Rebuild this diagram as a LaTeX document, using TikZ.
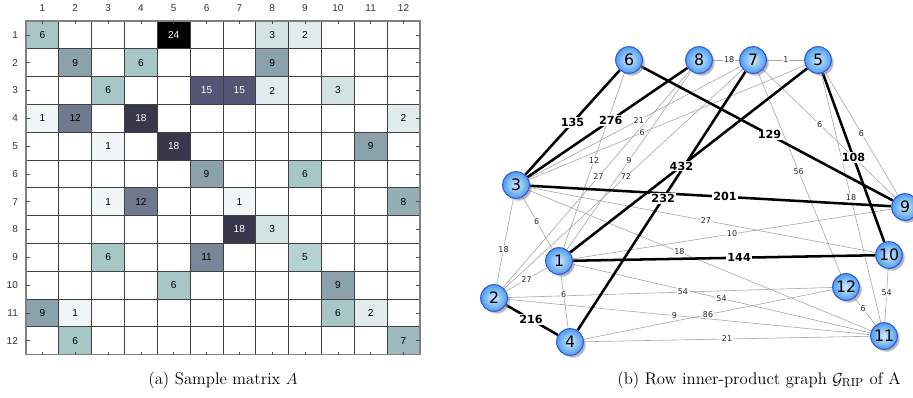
\documentclass[tikz,border=0pt]{standalone}
\usepackage{fontspec}
\usepackage{amsmath}
\usetikzlibrary{shadows}
\newfontfamily\matfont{Liberation Sans}
\newfontfamily\graphfont{DejaVu Sans}

% colour scale of the matrix entries
\definecolor{c1}{RGB}{240,246,246}
\definecolor{c2}{RGB}{226,236,236}
\definecolor{c3}{RGB}{211,227,227}
\definecolor{c5}{RGB}{182,209,209}
\definecolor{c6}{RGB}{167,199,199}
\definecolor{c7}{RGB}{158,186,190}
\definecolor{c8}{RGB}{149,174,181}
\definecolor{c9}{RGB}{139,161,171}
\definecolor{c11}{RGB}{121,135,153}
\definecolor{c12}{RGB}{112,122,143}
\definecolor{c15}{RGB}{84,84,116}
\definecolor{c18}{RGB}{56,56,77}
\definecolor{c24}{RGB}{0,0,0}
\definecolor{ballin}{RGB}{208,234,252}
\definecolor{ballout}{RGB}{78,158,234}
\definecolor{ballrim}{RGB}{48,84,236}

\pgfdeclarelayer{thinlayer}
\pgfdeclarelayer{thicklayer}
\pgfsetlayers{thinlayer,thicklayer,main}

\begin{document}
\begin{tikzpicture}[x=0.75pt, y=-0.75pt,
  cell/.style = {minimum width=24.62pt, minimum height=20.85pt, inner sep=0, font=\matfont\fontsize{7.6}{8}\selectfont},
  axlbl/.style = {inner sep=0, text=black!80, font=\matfont\fontsize{7.5}{8}\selectfont},
  gridline/.style = {draw=black!75, line width=0.65pt},
  tickline/.style = {draw=black!70, line width=0.5pt},
  vtx/.style = {circle, minimum size=20pt, inner sep=0, draw=ballrim, line width=0.8pt, shading=radial, inner color=ballin, outer color=ballout, circular drop shadow={shadow xshift=1.8pt, shadow yshift=-1.8pt, shadow scale=1.02, opacity=0.6}, font=\graphfont\fontsize{11.8}{12}\selectfont},
  lightedge/.style = {draw=black!35, line width=0.45pt},
  heavyedge/.style = {draw=black, line width=1.9pt},
  lightlbl/.style = {fill=white, inner sep=0.6pt, text=black!85, font=\graphfont\fontsize{6}{6}\selectfont},
  heavylbl/.style = {fill=white, inner sep=0.8pt, font=\graphfont\bfseries\fontsize{8.4}{9}\selectfont},
  caption/.style = {inner sep=0, font=\fontsize{12.6}{14}\selectfont}]
\useasboundingbox (0,0) rectangle (913,398);

% (a) the matrix
\begin{scope}[shift={(26,21)}, x=24.62pt, y=-20.85pt]
\node[cell, fill=c6] (a1-1) at (0.5,0.5) {6};
\node[cell, fill=c24, text=white] (a1-5) at (4.5,0.5) {24};
\node[cell, fill=c3] (a1-8) at (7.5,0.5) {3};
\node[cell, fill=c2] (a1-9) at (8.5,0.5) {2};
\node[cell, fill=c9] (a2-2) at (1.5,1.5) {9};
\node[cell, fill=c6] (a2-4) at (3.5,1.5) {6};
\node[cell, fill=c9] (a2-8) at (7.5,1.5) {9};
\node[cell, fill=c6] (a3-3) at (2.5,2.5) {6};
\node[cell, fill=c15, text=white] (a3-6) at (5.5,2.5) {15};
\node[cell, fill=c15, text=white] (a3-7) at (6.5,2.5) {15};
\node[cell, fill=c2] (a3-8) at (7.5,2.5) {2};
\node[cell, fill=c3] (a3-10) at (9.5,2.5) {3};
\node[cell, fill=c1] (a4-1) at (0.5,3.5) {1};
\node[cell, fill=c12] (a4-2) at (1.5,3.5) {12};
\node[cell, fill=c18, text=white] (a4-4) at (3.5,3.5) {18};
\node[cell, fill=c2] (a4-12) at (11.5,3.5) {2};
\node[cell, fill=c1] (a5-3) at (2.5,4.5) {1};
\node[cell, fill=c18, text=white] (a5-5) at (4.5,4.5) {18};
\node[cell, fill=c9] (a5-11) at (10.5,4.5) {9};
\node[cell, fill=c9] (a6-6) at (5.5,5.5) {9};
\node[cell, fill=c6] (a6-9) at (8.5,5.5) {6};
\node[cell, fill=c1] (a7-3) at (2.5,6.5) {1};
\node[cell, fill=c12] (a7-4) at (3.5,6.5) {12};
\node[cell, fill=c1] (a7-7) at (6.5,6.5) {1};
\node[cell, fill=c8] (a7-12) at (11.5,6.5) {8};
\node[cell, fill=c18, text=white] (a8-7) at (6.5,7.5) {18};
\node[cell, fill=c3] (a8-8) at (7.5,7.5) {3};
\node[cell, fill=c6] (a9-3) at (2.5,8.5) {6};
\node[cell, fill=c11] (a9-6) at (5.5,8.5) {11};
\node[cell, fill=c5] (a9-9) at (8.5,8.5) {5};
\node[cell, fill=c6] (a10-5) at (4.5,9.5) {6};
\node[cell, fill=c9] (a10-10) at (9.5,9.5) {9};
\node[cell, fill=c9] (a11-1) at (0.5,10.5) {9};
\node[cell, fill=c1] (a11-2) at (1.5,10.5) {1};
\node[cell, fill=c6] (a11-10) at (9.5,10.5) {6};
\node[cell, fill=c2] (a11-11) at (10.5,10.5) {2};
\node[cell, fill=c6] (a12-2) at (1.5,11.5) {6};
\node[cell, fill=c7] (a12-12) at (11.5,11.5) {7};
\foreach \i in {1,...,11} {
  \draw[gridline] (\i,0) -- (\i,12);
  \draw[gridline] (0,\i) -- (12,\i);
}
\draw[draw=black!50, line width=0.9pt] (0,0) rectangle (12,12);
\foreach \i in {1,...,12} {
  \draw[tickline] (\i-0.5,0) -- (\i-0.5,0.11);
  \draw[tickline] (\i-0.5,12) -- (\i-0.5,11.89);
  \draw[tickline] (0,\i-0.5) -- (0.12,\i-0.5);
  \draw[tickline] (12,\i-0.5) -- (11.88,\i-0.5);
  \node[axlbl] (col\i) at (\i-0.5,-0.46) {\i};
  \node[axlbl, anchor=east] (row\i) at (-0.24,\i-0.5) {\i};
}
\end{scope}
\node[caption] (capa) at (223,380) {(a) Sample matrix $A$};

% (b) the graph
\node[vtx] (n1) at (559,261) {1};
\node[vtx] (n2) at (494,298) {2};
\node[vtx] (n3) at (516,185) {3};
\node[vtx] (n4) at (570,342) {4};
\node[vtx] (n5) at (818,60) {5};
\node[vtx] (n6) at (629,60) {6};
\node[vtx] (n7) at (753,60) {7};
\node[vtx] (n8) at (699,60) {8};
\node[vtx] (n9) at (905,207) {9};
\node[vtx] (n10) at (889,255) {10};
\node[vtx] (n11) at (884,336) {11};
\node[vtx] (n12) at (846,287) {12};
\foreach \a/\b/\w/\p in {1/2/27/0.5, 1/3/6/0.53, 1/4/6/0.37, 1/6/12/0.5, 1/8/9/0.5,
    1/9/10/0.5, 1/11/54/0.5, 2/3/18/0.41, 2/7/72/0.51, 2/8/27/0.51, 2/11/9/0.46,
    2/12/54/0.54, 3/5/6/0.41, 3/7/21/0.52, 3/10/27/0.51, 3/11/18/0.44, 4/11/21/0.5,
    4/12/86/0.5, 7/5/1/0.51, 5/9/6/0.5, 5/11/18/0.5, 8/7/18/0.62, 7/9/6/0.43,
    7/12/56/0.49, 10/11/54/0.45, 12/11/6/0.41} {
  \begin{pgfonlayer}{thinlayer}
    \draw[lightedge] (n\a) -- (n\b);
  \end{pgfonlayer}
  \path (n\a) -- node[lightlbl, pos=\p] {\w} (n\b);
}
\foreach \a/\b/\w/\p in {3/6/135/0.5, 3/8/276/0.52, 1/5/432/0.47, 4/7/232/0.51,
    2/4/216/0.48, 3/9/201/0.54, 1/10/144/0.55, 6/9/129/0.51, 5/10/108/0.5} {
  \begin{pgfonlayer}{thicklayer}
    \draw[heavyedge] (n\a) -- (n\b);
  \end{pgfonlayer}
  \path (n\a) -- node[heavylbl, pos=\p] {\w} (n\b);
}
\node[caption] (capb) at (759,380) {(b) Row inner-product graph $\mathcal{G}_{\mathrm{RIP}}$ of A};
\end{tikzpicture}
\end{document}
